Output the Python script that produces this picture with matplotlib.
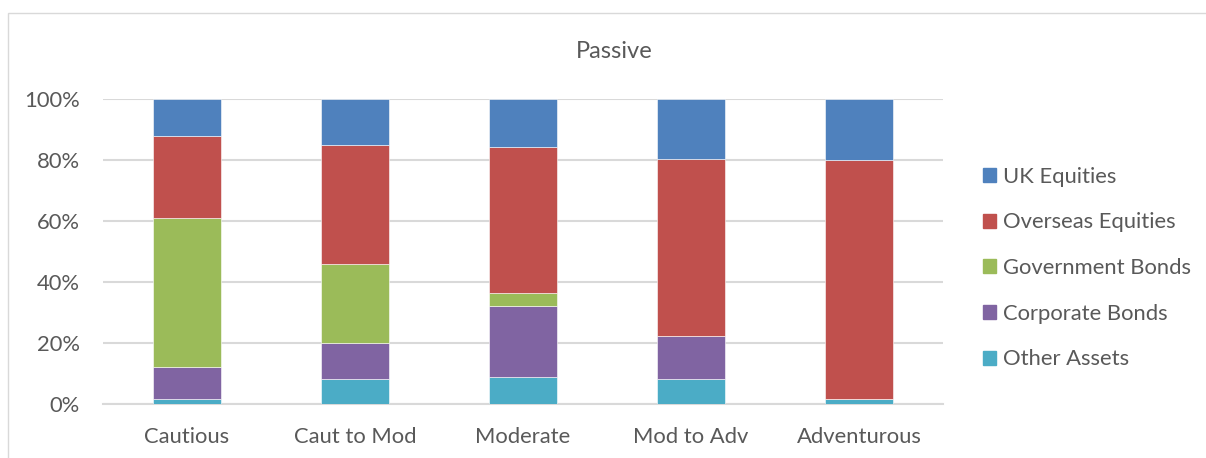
import matplotlib.pyplot as plt
import matplotlib.patches as mpatches
import numpy as np

plt.rcParams['font.family'] = ['Lato', 'DejaVu Sans']

profiles = ['Cautious', 'Caut to Mod', 'Moderate', 'Mod to Adv', 'Adventurous']
# stacked from the bottom up
other_assets = [1.8, 8.4, 8.9, 8.4, 1.8]
corporate_bonds = [10.5, 11.8, 23.4, 14.1, 0.0]
government_bonds = [48.6, 25.8, 4.2, 0.0, 0.0]
overseas_equities = [27.1, 39.0, 47.9, 58.0, 78.1]
uk_equities = [12.0, 15.0, 15.6, 19.5, 20.1]

series = [
    ('Other Assets', other_assets, '#4BACC6'),
    ('Corporate Bonds', corporate_bonds, '#8064A2'),
    ('Government Bonds', government_bonds, '#9BBB59'),
    ('Overseas Equities', overseas_equities, '#C0504D'),
    ('UK Equities', uk_equities, '#4F81BD'),
]

txt = '#595959'
grid = '#d9d9d9'

fig = plt.figure(figsize=(12.06, 4.58), dpi=100)
ax = fig.add_axes([103 / 1206, 53.7 / 458, 840 / 1206, 305.3 / 458])

x = np.arange(len(profiles))
bottom = np.zeros(len(profiles))
handles = []
for name, vals, col in series:
    vals = np.array(vals)
    ax.bar(x, vals, 0.4, bottom=bottom, color=col, edgecolor='white',
           linewidth=0.4, zorder=3)
    bottom += vals
    handles.append(mpatches.Patch(color=col, label=name))

ax.set_xlim(-0.5, len(profiles) - 0.5)
ax.set_ylim(0, 100)
ax.set_yticks(range(0, 101, 20))
ax.set_yticklabels([f'{v}%' for v in range(0, 101, 20)])
ax.set_xticks(x)
ax.set_xticklabels(profiles)
ax.yaxis.grid(True, color=grid, linewidth=1.5, zorder=0)
ax.set_axisbelow(True)
for s in ['top', 'right', 'left']:
    ax.spines[s].set_visible(False)
ax.spines['bottom'].set_color(grid)
ax.spines['bottom'].set_linewidth(1.5)
ax.tick_params(axis='both', length=0, colors=txt, labelsize=15.8)
ax.tick_params(axis='y', pad=16.5)
ax.tick_params(axis='x', pad=16)

fig.text(614 / 1206, 1 - 51 / 458, 'Passive', ha='center', va='center',
         fontsize=17, color=txt)

leg = fig.legend(handles=handles[::-1], loc='center left',
                 bbox_to_anchor=(972 / 1206, 1 - 268 / 458), frameon=False,
                 fontsize=15.8, labelspacing=1.17, handlelength=0.6,
                 handleheight=0.6, handletextpad=0.32, borderpad=0)
for t in leg.get_texts():
    t.set_color(txt)

# outer chart frame
frame = mpatches.Rectangle((8 / 1206, -0.1), 1.2, 1.1 - 13 / 458,
                           transform=fig.transFigure, fill=False,
                           edgecolor=grid, linewidth=1.0)
fig.patches.append(frame)

fig.savefig('out.png', dpi=100)
